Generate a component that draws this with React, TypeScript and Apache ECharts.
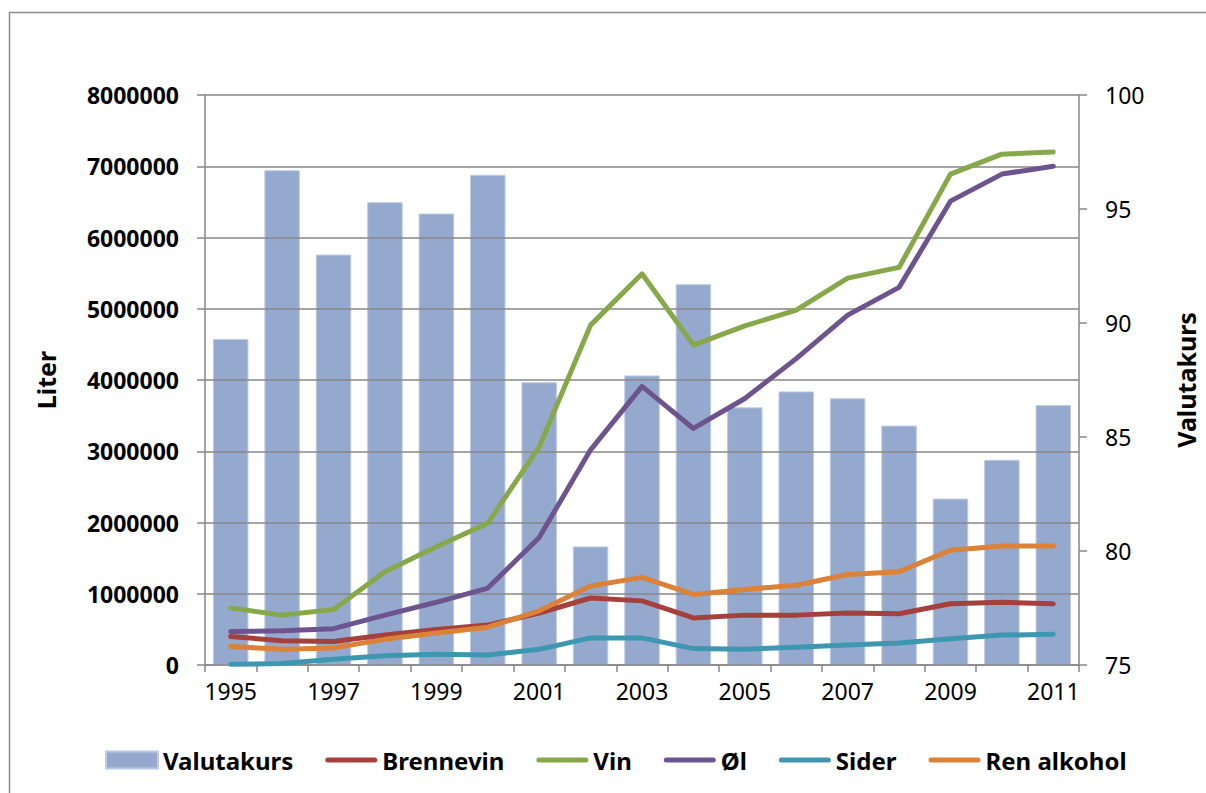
import React, { useEffect, useRef } from "react";
import * as echarts from "echarts";

const years = ["1995","1996","1997","1998","1999","2000","2001","2002","2003","2004","2005","2006","2007","2008","2009","2010","2011"];
const valutakurs = [89.3, 96.7, 93.0, 95.3, 94.8, 96.5, 87.4, 80.2, 87.7, 91.7, 86.3, 87.0, 86.7, 85.5, 82.3, 84.0, 86.4];
const brennevin = [400000, 340000, 330000, 420000, 500000, 560000, 730000, 940000, 900000, 660000, 700000, 700000, 730000, 720000, 860000, 880000, 860000];
const vin = [800000, 700000, 780000, 1310000, 1660000, 1990000, 3060000, 4770000, 5490000, 4490000, 4760000, 4980000, 5430000, 5580000, 6890000, 7170000, 7200000];
const ol = [470000, 480000, 510000, 700000, 880000, 1080000, 1790000, 3020000, 3910000, 3320000, 3740000, 4300000, 4910000, 5300000, 6510000, 6890000, 7000000];
const sider = [10000, 20000, 80000, 130000, 150000, 140000, 220000, 380000, 380000, 230000, 220000, 250000, 280000, 310000, 370000, 420000, 430000];
const renAlkohol = [260000, 220000, 240000, 360000, 450000, 530000, 760000, 1110000, 1230000, 990000, 1060000, 1120000, 1270000, 1310000, 1610000, 1670000, 1670000];

const leftMin = 0;
const leftMax = 8000000;
const leftInterval = 1000000;
const rightMin = 75;
const rightMax = 100;
const rightInterval = 5;

const FONT = "'Noto Sans', 'DejaVu Sans', sans-serif";
const GRAY = "#878787";
const LINE_ICON = "path://M2.5,0 L49.5,0 A2.5,2.5 0 0 1 49.5,5 L2.5,5 A2.5,2.5 0 0 1 2.5,0 Z";

export default function App() {
  const ref = useRef<HTMLDivElement>(null);
  useEffect(() => {
    if (!ref.current) return;
    const chart = echarts.init(ref.current, undefined, { renderer: "svg" });
    const lineSeries = (name: string, data: number[], color: string) => ({
      name,
      type: "line",
      data,
      yAxisIndex: 0,
      showSymbol: false,
      symbol: "none",
      z: 5,
      lineStyle: { color, width: 5, cap: "round", join: "round" },
      itemStyle: { color },
    });
    chart.setOption({
      animation: false,
      backgroundColor: "#ffffff",
      textStyle: { fontFamily: FONT },
      graphic: [
        {
          type: "rect",
          shape: { x: 9.5, y: 12.5, width: 1260, height: 860 },
          style: { fill: "none", stroke: "#8c8c8c", lineWidth: 1.5 },
          silent: true,
          z: 0,
        },
      ],
      grid: { left: 205, right: 119, top: 95, bottom: 128, containLabel: false },
      legend: {
        left: 100,
        top: 743,
        itemWidth: 52,
        itemHeight: 17,
        itemGap: 32,
        symbolKeepAspect: true,
        textStyle: { fontSize: 24, fontWeight: "bold", color: "#000", fontFamily: FONT },
        data: [
          { name: "Valutakurs", icon: "rect" },
          { name: "Brennevin", icon: LINE_ICON },
          { name: "Vin", icon: LINE_ICON },
          { name: "Øl", icon: LINE_ICON },
          { name: "Sider", icon: LINE_ICON },
          { name: "Ren alkohol", icon: LINE_ICON },
        ],
      },
      xAxis: {
        type: "category",
        data: years,
        boundaryGap: true,
        axisLine: { lineStyle: { color: GRAY, width: 1.5 } },
        axisTick: { show: true, interval: 0, length: 7, lineStyle: { color: GRAY, width: 1.5 } },
        axisLabel: { interval: 1, fontSize: 23, color: "#000", margin: 14, fontFamily: FONT },
      },
      yAxis: [
        {
          type: "value",
          min: leftMin,
          max: leftMax,
          interval: leftInterval,
          position: "left",
          z: 3,
          name: "Liter",
          nameLocation: "middle",
          nameGap: 147,
          nameTextStyle: { fontSize: 25, fontWeight: "bold", color: "#000", fontFamily: FONT },
          axisLine: { show: true, lineStyle: { color: GRAY, width: 1.5 } },
          axisTick: { show: true, length: 8, lineStyle: { color: GRAY, width: 1.5 } },
          axisLabel: {
            fontSize: 23,
            fontWeight: "bold",
            color: "#000",
            margin: 26,
            fontFamily: FONT,
            formatter: (v: number) => String(v),
          },
          splitLine: { show: true, lineStyle: { color: GRAY, width: 1.5 } },
        },
        {
          type: "value",
          min: rightMin,
          max: rightMax,
          interval: rightInterval,
          position: "right",
          z: 3,
          name: "Valutakurs",
          nameLocation: "middle",
          nameGap: 94,
          nameRotate: 90,
          nameTextStyle: { fontSize: 25, fontWeight: "bold", color: "#000", fontFamily: FONT },
          axisLine: { show: true, lineStyle: { color: GRAY, width: 1.5 } },
          axisTick: { show: true, length: 8, lineStyle: { color: GRAY, width: 1.5 } },
          axisLabel: { fontSize: 23, color: "#000", margin: 26, fontFamily: FONT },
          splitLine: { show: false },
        },
      ],
      series: [
        {
          name: "Valutakurs",
          type: "bar",
          data: valutakurs,
          yAxisIndex: 1,
          barWidth: "69%",
          z: 2,
          itemStyle: { color: "#95A9CF", borderColor: "#BCCAE4", borderWidth: 1 },
        },
        lineSeries("Brennevin", brennevin, "#A5403D"),
        lineSeries("Vin", vin, "#87A84A"),
        lineSeries("Øl", ol, "#6E548E"),
        lineSeries("Sider", sider, "#3D97B0"),
        lineSeries("Ren alkohol", renAlkohol, "#DB8138"),
      ],
    });
    return () => chart.dispose();
  }, []);
  return (
    <div
      ref={ref}
      style={{ position: "fixed", left: 0, top: 0, width: 1206, height: 793, background: "#fff" }}
    />
  );
}
